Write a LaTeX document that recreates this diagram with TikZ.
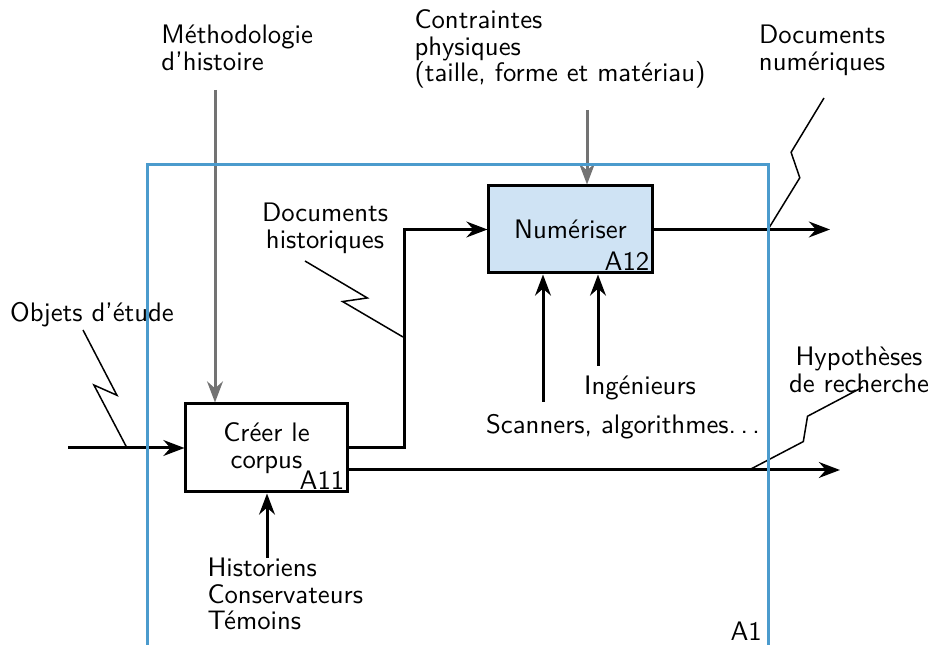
\documentclass[tikz,border=0pt]{standalone}
\usepackage{tikz}
\usetikzlibrary{arrows.meta, positioning, calc}
\renewcommand{\familydefault}{\sfdefault}
\definecolor{ideframe}{RGB}{75, 155, 205}
\definecolor{idefbox}{RGB}{207, 227, 244}
\definecolor{idefgray}{RGB}{115, 115, 115}
\tikzset{
  actbox/.style={
    rectangle, draw=black, line width=1.2pt, fill=white,
    align=center, minimum width=64.4pt, minimum height=35.2pt, inner sep=2pt
  },
  numbox/.style={actbox, fill=idefbox, minimum width=65.2pt, minimum height=34.8pt},
  code/.style={anchor=south east, inner sep=1.5pt},
  lbl/.style={align=left, inner sep=0pt},
  clbl/.style={align=center, inner sep=0pt},
  arr/.style={-Stealth, line width=1.2pt},
  carr/.style={-Stealth, line width=1.2pt, color=idefgray},
  leadline/.style={line width=0.6pt},
  frame/.style={draw=ideframe, line width=1.2pt},
}
% zigzag leader: start, end, first kink, second kink, offset
\newcommand{\zigzag}[5]{\draw[leadline] (#1) -- ($(#1)!#3!(#2)!#5!90:(#2)$) -- ($(#1)!#4!(#2)!#5!-90:(#2)$) -- (#2);}

\begin{document}
\begin{tikzpicture}[x=0.4pt, y=-0.4pt, font=\sffamily\fontsize{10.7}{10.7}\selectfont]
  \useasboundingbox (0,0) rectangle (929,645);

  % activities
  \node[actbox] (a11) at (266.5,448) {Cr\'eer le\\corpus};
  \node[code] at (a11.south east) {A11};
  \node[numbox] (a12) at (570.5,229.5) {Num\'eriser};
  \node[code] at (a12.south east) {A12};

  % labels
  \node[clbl] (obj) at (92,315) {Objets d'\'etude};
  \node[lbl, anchor=west] (meth) at (161,48) {M\'ethodologie\\d'histoire};
  \node[lbl, anchor=west] (acteurs) at (207,594) {Historiens\\Conservateurs\\T\'emoins};
  \node[clbl] (dochist) at (325,228) {Documents\\historiques};
  \node[lbl, anchor=west] (contr) at (414,49) {Contraintes\\physiques\\(taille, forme et mat\'eriau)};
  \node[clbl] (docnum) at (822,50) {Documents\\num\'eriques};
  \node[clbl] (hyp) at (859,370) {Hypoth\`eses\\de recherche};
  \node[clbl] (ing) at (640,388) {Ing\'enieurs};
  \node[clbl] (outils) at (623,427) {Scanners, algorithmes.\,.\,.};

  % arrow ends
  \coordinate (in1) at (68,448);
  \coordinate (ctl1) at (215,90);
  \coordinate (mec1) at (267,558);
  \coordinate (ctl2) at (587,110);
  \coordinate (mec2a) at (543,402);
  \coordinate (mec2b) at (598,366);
  \coordinate (out2) at (840,470);
  \coordinate (out3) at (830,229.5);

  % arrows
  \draw[arr] (in1) -- (a11.west);
  \draw[carr] (ctl1) -- (ctl1 |- a11.north);
  \draw[arr] (mec1) -- (mec1 |- a11.south);
  \draw[arr] (a11.east) -- ++(56,0) coordinate (bend) |- (a12.west);
  \draw[arr] ($(a11.east)+(0,22)$) -- (out2);
  \draw[arr] (a12.east) -- (out3);
  \draw[carr] (ctl2) -- (ctl2 |- a12.north);
  \draw[arr] (mec2a) -- (mec2a |- a12.south);
  \draw[arr] (mec2b) -- (mec2b |- a12.south);

  % leaders
  \coordinate (objs) at (83,330);   \coordinate (objh) at (127,448);
  \coordinate (dhs) at (305,261);   \coordinate (dhh) at (403,337);
  \coordinate (dns) at (824,98);    \coordinate (dnh) at (768,229.5);
  \coordinate (hys) at (863,387);   \coordinate (hyh) at (749,470);
  \zigzag{objs}{objh}{0.58}{0.44}{3.6pt}
  \zigzag{dhs}{dhh}{0.58}{0.44}{3.6pt}
  \zigzag{dns}{dnh}{0.44}{0.58}{-3.6pt}
  \zigzag{hys}{hyh}{0.44}{0.57}{-3.6pt}

  % frame
  \draw[frame] (147,645) |- (768,165) -- (768,645);
  \node[anchor=south east, inner sep=1.5pt] (a1) at (766,645) {A1};
\end{tikzpicture}
\end{document}
